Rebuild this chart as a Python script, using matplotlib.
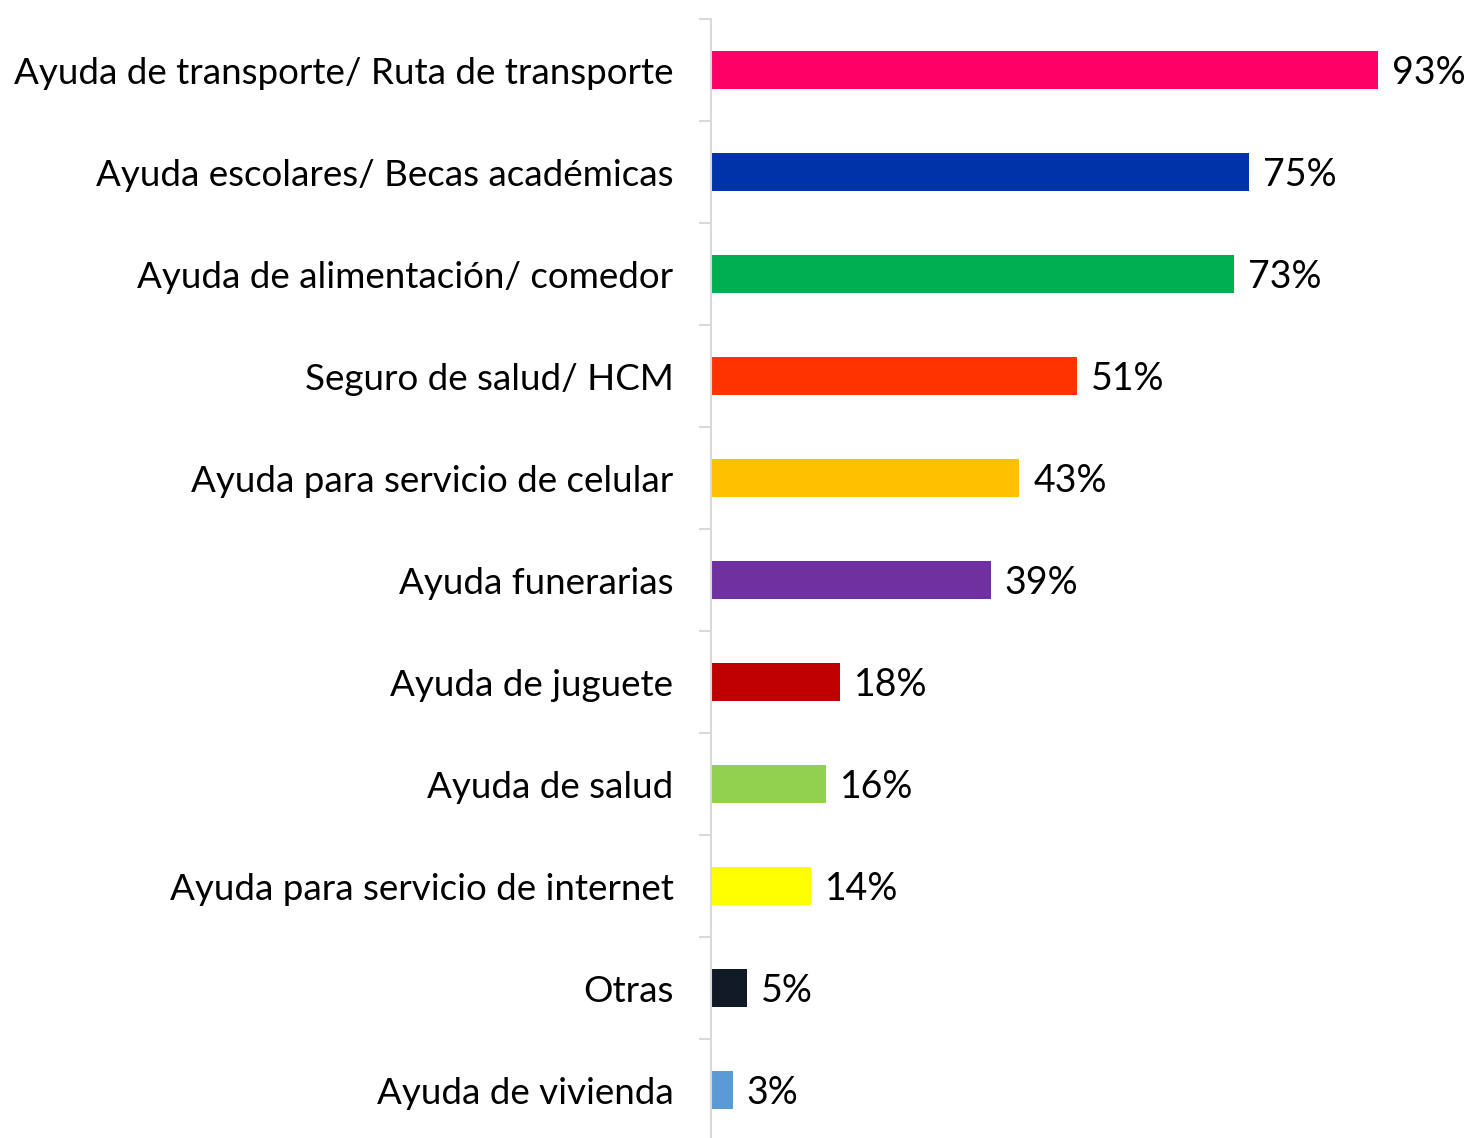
import matplotlib.pyplot as plt
import numpy as np

categorias = [
    "Ayuda de transporte/ Ruta de transporte",
    "Ayuda escolares/ Becas académicas",
    "Ayuda de alimentación/ comedor",
    "Seguro de salud/ HCM",
    "Ayuda para servicio de celular",
    "Ayuda funerarias",
    "Ayuda de juguete",
    "Ayuda de salud",
    "Ayuda para servicio de internet",
    "Otras",
    "Ayuda de vivienda",
]
valores = [93, 75, 73, 51, 43, 39, 18, 16, 14, 5, 3]
colores = ["#FF0066", "#0033AA", "#00B050", "#FF3300", "#FFC000", "#7030A0",
           "#C00000", "#92D050", "#FFFF00", "#111A24", "#5B9BD5"]

plt.rcParams['font.family'] = ['Lato', 'DejaVu Sans']

fig = plt.figure(figsize=(14.77, 11.38), dpi=100)
W, H = 1477, 1138
# axes placed in pixel coordinates: x from 711 to 1428 (0-100%), y from 19 to 1141
ax = fig.add_axes([711 / W, 1 - 1141 / H, 717 / W, 1122 / H])

y = np.arange(len(categorias))
ax.barh(y, valores, height=0.37, color=colores, left=0)
ax.set_xlim(0, 100)
ax.set_ylim(len(categorias) - 0.5, -0.5)

for yi, v in zip(y, valores):
    ax.annotate(f"{v}%", (v, yi), xytext=(10, 0), textcoords="offset points",
                ha="left", va="center_baseline", fontsize=27, color="black")

ax.set_yticks(y)
ax.set_yticklabels(categorias, fontsize=26.5, va="center_baseline")
ax.set_yticks(np.arange(-0.5, len(categorias), 1), minor=True)
ax.tick_params(axis="y", which="major", length=0, pad=27)
ax.tick_params(axis="y", which="minor", length=9, width=1.5, color="#D9D9D9")
ax.set_xticks([])

for s in ["top", "right", "bottom"]:
    ax.spines[s].set_visible(False)
ax.spines["left"].set_color("#D9D9D9")
ax.spines["left"].set_linewidth(1.5)

fig.savefig("out.png", dpi=100)
